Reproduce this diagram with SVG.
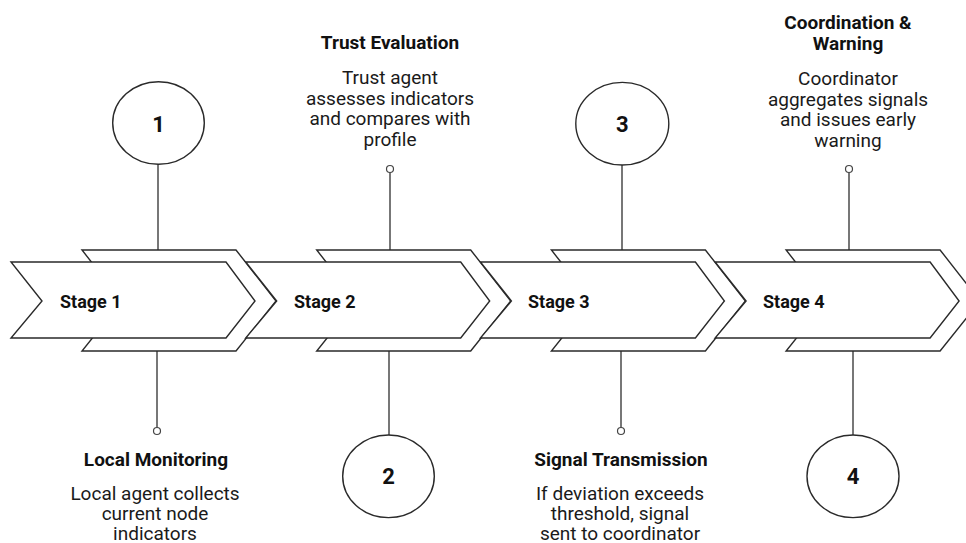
<svg xmlns="http://www.w3.org/2000/svg" xmlns:xlink="http://www.w3.org/1999/xlink" width="966" height="543" viewBox="0 0 966 543">
  <style>
    .shape { fill: #ffffff; stroke: #2a2a2a; stroke-width: 1.4; stroke-linejoin: miter; }
    .conn { stroke: #555555; stroke-width: 1.6; fill: none; }
    .dot { fill: #ffffff; stroke: #444444; stroke-width: 1.2; }
    .circ { fill: #ffffff; stroke: #2a2a2a; stroke-width: 1.4; }
    .stage { font-family: Roboto, "Liberation Sans", sans-serif; font-weight: 700; font-size: 18px; fill: #111111; }
    .num { font-family: Roboto, "Liberation Sans", sans-serif; font-weight: 700; font-size: 22px; fill: #111111; text-anchor: middle; }
    .title { font-family: Roboto, "Liberation Sans", sans-serif; font-weight: 700; font-size: 19px; fill: #111111; text-anchor: middle; }
    .body { font-family: Roboto, "Liberation Sans", sans-serif; font-weight: 400; font-size: 19px; fill: #1a1a1a; text-anchor: middle; }
  </style>
  <defs>
    <path id="back" d="M82,250 L236,250 L276,301 L236,351 L82,351 L122,301 Z"/>
    <path id="front" d="M11,262 L226,262 L255,301 L226,338 L11,338 L42,301 Z"/>
  </defs>
  <rect width="966" height="543" fill="#ffffff"/>

  <g id="connectors">
    <line class="conn" x1="158" y1="164" x2="158" y2="250"/>
    <line class="conn" x1="157" y1="351" x2="157" y2="427.5"/>
    <line class="conn" x1="390" y1="172.5" x2="390" y2="250"/>
    <line class="conn" x1="389" y1="351" x2="389" y2="435"/>
    <line class="conn" x1="622" y1="165" x2="622" y2="250"/>
    <line class="conn" x1="621" y1="351" x2="621" y2="427.5"/>
    <line class="conn" x1="849" y1="172.5" x2="849" y2="250"/>
    <line class="conn" x1="853" y1="351" x2="853" y2="435"/>
  </g>

  <g id="stage1">
    <use xlink:href="#back" class="shape"/>
    <use xlink:href="#front" class="shape"/>
    <text class="stage" x="60" y="307.5">Stage 1</text>
  </g>
  <g id="stage2">
    <use xlink:href="#back" class="shape" x="234.7"/>
    <use xlink:href="#front" class="shape" x="234.7"/>
    <text class="stage" x="294" y="307.5">Stage 2</text>
  </g>
  <g id="stage3">
    <use xlink:href="#back" class="shape" x="469.4"/>
    <use xlink:href="#front" class="shape" x="469.4"/>
    <text class="stage" x="528" y="307.5">Stage 3</text>
  </g>
  <g id="stage4">
    <use xlink:href="#back" class="shape" x="704.1"/>
    <use xlink:href="#front" class="shape" x="704.1"/>
    <text class="stage" x="763" y="307.5">Stage 4</text>
  </g>

  <g id="circle1">
    <ellipse class="circ" cx="158.5" cy="123" rx="45.8" ry="41.3"/>
    <text class="num" x="158.5" y="131.5">1</text>
  </g>
  <g id="circle2">
    <ellipse class="circ" cx="388.5" cy="476.3" rx="45.8" ry="41.3"/>
    <text class="num" x="388.5" y="484">2</text>
  </g>
  <g id="circle3">
    <ellipse class="circ" cx="622.3" cy="123.7" rx="46.5" ry="41.3"/>
    <text class="num" x="622.3" y="131.5">3</text>
  </g>
  <g id="circle4">
    <ellipse class="circ" cx="853" cy="476.3" rx="46" ry="41.3"/>
    <text class="num" x="853" y="484">4</text>
  </g>

  <g id="dots">
    <circle class="dot" cx="157" cy="431" r="3.5"/>
    <circle class="dot" cx="390" cy="169" r="3.5"/>
    <circle class="dot" cx="621" cy="431" r="3.5"/>
    <circle class="dot" cx="849" cy="169" r="3.5"/>
  </g>

  <g id="label1">
    <text class="title" x="156" y="466">Local Monitoring</text>
    <text class="body" x="155" y="499.5">Local agent collects</text>
    <text class="body" x="155" y="519.5">current node</text>
    <text class="body" x="155" y="539.5">indicators</text>
  </g>
  <g id="label2">
    <text class="title" x="390" y="49">Trust Evaluation</text>
    <text class="body" x="390" y="84">Trust agent</text>
    <text class="body" x="390" y="104.7">assesses indicators</text>
    <text class="body" x="390" y="125.3">and compares with</text>
    <text class="body" x="390" y="146">profile</text>
  </g>
  <g id="label3">
    <text class="title" x="621" y="466">Signal Transmission</text>
    <text class="body" x="620" y="499.5">If deviation exceeds</text>
    <text class="body" x="620" y="519.5">threshold, signal</text>
    <text class="body" x="620" y="539.5">sent to coordinator</text>
  </g>
  <g id="label4">
    <text class="title" x="848" y="29.3">Coordination &amp;</text>
    <text class="title" x="848" y="50">Warning</text>
    <text class="body" x="848" y="85">Coordinator</text>
    <text class="body" x="848" y="105.7">aggregates signals</text>
    <text class="body" x="848" y="126.3">and issues early</text>
    <text class="body" x="848" y="147">warning</text>
  </g>
</svg>
